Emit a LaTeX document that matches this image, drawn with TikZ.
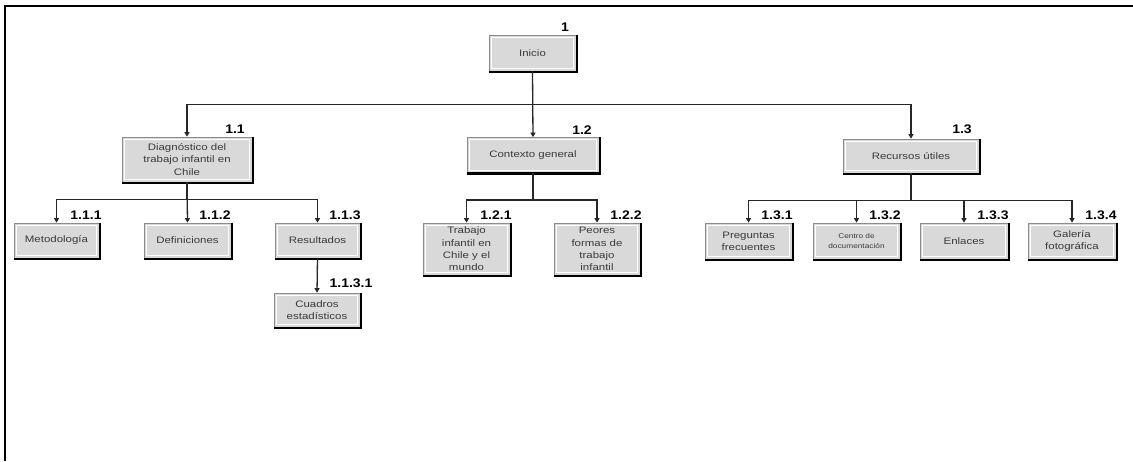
\documentclass[tikz,border=0pt]{standalone}
\usepackage{fontspec}
\setmainfont{Liberation Sans}
\newfontfamily\boxfont{Liberation Sans}[FakeStretch=1.22]
\newfontfamily\numfont{Liberation Sans}[FakeStretch=1.12]
\usetikzlibrary{arrows.meta}
\definecolor{boxfill}{HTML}{D9D9D9}
\definecolor{boxedge}{HTML}{8C8C8C}
\definecolor{boxtext}{HTML}{3A3A3A}
\tikzset{
  menubox/.style={draw=boxedge, line width=0.7pt, fill=boxfill,
    inner sep=1pt, align=center, text=boxtext,
    font=\boxfont\fontsize{9.4}{12.3}\selectfont,
    path picture={\draw[white, line width=0.9pt]
      ([shift={(2.2pt,-2.2pt)}]path picture bounding box.north west) rectangle
      ([shift={(-2.2pt,2.2pt)}]path picture bounding box.south east);}},
  shadowline/.style={black, line width=2.4pt},
  conn/.style={line width=1.3pt, draw=black!85},
  arr/.style={conn, -{Triangle[width=5pt,length=4.5pt]}},
  numlabel/.style={font=\numfont\fontsize{12.5}{13}\bfseries\selectfont, inner sep=0pt}
}
\begin{document}
\begin{tikzpicture}[x=1pt,y=-1pt]
\useasboundingbox (0,0) rectangle (1133,461);
% page frame: top and left rules
\draw[line width=2pt] (5,461) -- (5,6) -- (1133,6);

% level 0
\node[menubox, minimum width=87pt, minimum height=36pt] (inicio) at (532.5,53) {Inicio};
% level 1
\node[menubox, minimum width=130pt, minimum height=45pt] (n11) at (187,159.5) {Diagnóstico del\\trabajo infantil en\\Chile};
\node[menubox, minimum width=132pt, minimum height=35pt] (n12) at (533,155) {Contexto general};
\node[menubox, minimum width=136pt, minimum height=34pt] (n13) at (911,156) {Recursos útiles};
% level 2 under 1.1
\node[menubox, minimum width=85pt, minimum height=35pt] (n111) at (56.5,240.5) {Metodología};
\node[menubox, minimum width=87pt, minimum height=35pt] (n112) at (187.5,240.5) {Definiciones};
\node[menubox, minimum width=85pt, minimum height=35pt] (n113) at (317.5,240.5) {Resultados};
\node[menubox, minimum width=86pt, minimum height=34pt] (n1131) at (317,310) {Cuadros\\estadísticos};
% level 2 under 1.2
\node[menubox, minimum width=87pt, minimum height=52pt] (n121) at (466.5,249) {Trabajo\\infantil en\\Chile y el\\mundo};
\node[menubox, minimum width=86pt, minimum height=52pt] (n122) at (597,249) {Peores\\formas de\\trabajo\\infantil};
% level 2 under 1.3
\node[menubox, minimum width=87pt, minimum height=36pt] (n131) at (748.5,241) {Preguntas\\frecuentes};
\node[menubox, minimum width=87pt, minimum height=36pt, font=\boxfont\fontsize{6.8}{9.5}\selectfont] (n132) at (856.5,241) {Centro de\\documentación};
\node[menubox, minimum width=88pt, minimum height=36pt] (n133) at (964,241) {Enlaces};
\node[menubox, minimum width=88pt, minimum height=36pt] (n134) at (1072,241) {Galería\\fotográfica};

% dark shadow on the right and bottom edges
\foreach \b in {inicio,n11,n12,n13,n111,n112,n113,n1131,n121,n122,n131,n132,n133,n134}{
  \draw[shadowline] ([xshift=0.6pt]\b.north east) -- ([xshift=0.6pt,yshift=-0.6pt]\b.south east) -- ([yshift=-0.6pt]\b.south west);
}

% connectors
\draw[arr] (inicio.south) -- ++(0,33) -| (n11.north);
\draw[arr] (inicio.south) -- (n12.north);
\draw[arr] (inicio.south) -- ++(0,33) -| (n13.north);

\draw[arr] (n11.south) -- ++(0,17) -| (n111.north);
\draw[arr] (n11.south) -- (n112.north);
\draw[arr] (n11.south) -- ++(0,17) -| (n113.north);
\draw[arr] (n113.south) -- (n1131.north);

\draw[arr] (n12.south) -- ++(0,27) -| (n121.north);
\draw[arr] (n12.south) -- ++(0,27) -| (n122.north);

\draw[arr] (n13.south) -- ++(0,27) -| (n131.north);
\draw[arr] (n13.south) -- ++(0,27) -| (n132.north);
\draw[arr] (n13.south) -- ++(0,27) -| (n133.north);
\draw[arr] (n13.south) -- ++(0,27) -| (n134.north);

% outline numbers
\node[numlabel] (l1) at (565,27) {1};
\node[numlabel] (l11) at (235,129) {1.1};
\node[numlabel] (l12) at (582,130) {1.2};
\node[numlabel] (l13) at (962,129) {1.3};
\node[numlabel] (l111) at (86,215) {1.1.1};
\node[numlabel] (l112) at (215,215) {1.1.2};
\node[numlabel] (l113) at (345,215) {1.1.3};
\node[numlabel] (l1131) at (351,283) {1.1.3.1};
\node[numlabel] (l121) at (496,215) {1.2.1};
\node[numlabel] (l122) at (626,215) {1.2.2};
\node[numlabel] (l131) at (777,215) {1.3.1};
\node[numlabel] (l132) at (885,215) {1.3.2};
\node[numlabel] (l133) at (993,215) {1.3.3};
\node[numlabel] (l134) at (1101,215) {1.3.4};
\end{tikzpicture}
\end{document}
